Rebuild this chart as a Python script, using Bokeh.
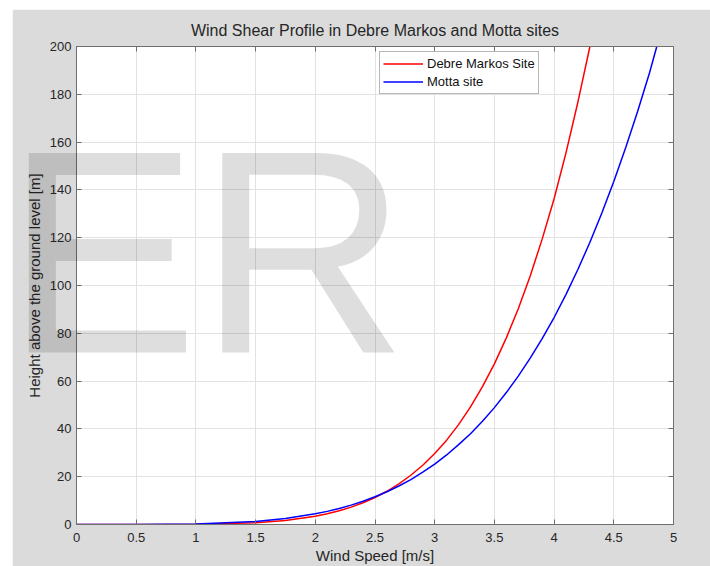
from bokeh.plotting import figure
from bokeh.models import Range1d, LinearAxis, Legend, LegendItem, FixedTicker, HTMLLabel, InlineStyleSheet
from bokeh.embed import file_html
from bokeh.resources import INLINE

# ---- data ----
debre_speed = [0.0, 0.5, 1.0, 1.5, 1.75, 2.0, 2.1, 2.2, 2.3, 2.4, 2.5, 2.6, 2.7, 2.8, 2.9,
               3.0, 3.1, 3.2, 3.3, 3.4, 3.5, 3.6, 3.7, 3.8, 3.9, 4.0, 4.1, 4.2, 4.3]
debre_height = [0.0, 0.002, 0.09, 0.75, 1.71, 3.46, 4.49, 5.74, 7.26, 9.10, 11.3, 13.9, 17.0, 20.6, 24.8,
                29.7, 35.3, 41.8, 49.2, 57.7, 67.2, 78.1, 90.3, 104.0, 119.4, 136.3, 155.6, 176.9, 200.0]

motta_speed = [0.0, 0.5, 1.0, 1.5, 1.75, 2.0, 2.1, 2.2, 2.3, 2.4, 2.5, 2.6, 2.7, 2.8, 2.9,
               3.0, 3.1, 3.2, 3.3, 3.4, 3.5, 3.6, 3.7, 3.8, 3.9, 4.0, 4.1, 4.2, 4.3, 4.4,
               4.5, 4.6, 4.7, 4.8, 4.86]
motta_height = [0.0, 0.012, 0.23, 1.30, 2.52, 4.46, 5.49, 6.71, 8.11, 9.74, 11.6, 13.7, 16.1, 18.8, 21.9,
                25.3, 29.1, 33.4, 38.0, 43.2, 48.9, 55.2, 62.1, 69.6, 77.8, 86.6, 96.3, 106.8, 118.1, 130.3,
                143.5, 157.7, 172.9, 189.1, 200.0]

x_ticks = [0, 0.5, 1, 1.5, 2, 2.5, 3, 3.5, 4, 4.5, 5]
x_tick_labels = ["0", "0.5", "1", "1.5", "2", "2.5", "3", "3.5", "4", "4.5", "5"]
y_ticks = [0, 20, 40, 60, 80, 100, 120, 140, 160, 180, 200]
y_tick_labels = ["0", "20", "40", "60", "80", "100", "120", "140", "160", "180", "200"]

series_names = ["Debre Markos Site", "Motta site"]
series_colors = ["#ff0000", "#0000ff"]

FONT = "Liberation Sans"
FRAME = "#6f6f6f"
TEXT = "#262626"

p = figure(width=698, height=557, output_backend="svg", toolbar_location=None,
           x_range=Range1d(0, 5), y_range=Range1d(0, 200),
           min_border_left=64, min_border_right=37, min_border_top=37, min_border_bottom=42,
           margin=(9, 0, 0, 12),
           background_fill_color="white", border_fill_color="#dbdbdb",
           title="Wind Shear Profile in Debre Markos and Motta sites")

p.outline_line_color = FRAME
p.title.text_font = FONT
p.title.text_font_size = "16px"
p.title.text_font_style = "normal"
p.title.text_color = TEXT
p.title.align = "center"
p.title.standoff = 15

xt = FixedTicker(ticks=x_ticks)
yt = FixedTicker(ticks=y_ticks)

for ax in p.xaxis:
    ax.ticker = xt
    ax.major_label_overrides = dict(zip(x_ticks, x_tick_labels))
    ax.axis_label = "Wind Speed [m/s]"
    ax.major_label_standoff = 8
    ax.axis_label_standoff = 2
for ax in p.yaxis:
    ax.ticker = yt
    ax.major_label_overrides = dict(zip(y_ticks, y_tick_labels))
    ax.axis_label = "Height above the ground level [m]"
    ax.major_label_standoff = 5
    ax.axis_label_standoff = 4

for ax in p.axis:
    ax.major_label_text_font = FONT
    ax.major_label_text_font_size = "13px"
    ax.major_label_text_color = TEXT
    ax.axis_label_text_font = FONT
    ax.axis_label_text_font_size = "15px"
    ax.axis_label_text_font_style = "normal"
    ax.axis_label_text_color = TEXT

top_ax = LinearAxis(ticker=xt)
right_ax = LinearAxis(ticker=yt)
for ax in (top_ax, right_ax):
    ax.major_label_text_font_size = "1px"
    ax.major_label_text_color = None
    ax.major_label_standoff = 0
p.add_layout(top_ax, "above")
p.add_layout(right_ax, "right")

for ax in p.axis:
    ax.axis_line_color = FRAME
    ax.major_tick_line_color = FRAME
    ax.major_tick_in = 5
    ax.major_tick_out = 0
    ax.minor_tick_line_color = None

p.xgrid.ticker = xt
p.ygrid.ticker = yt
p.grid.grid_line_color = "#e2e2e2"
p.grid.grid_line_width = 1

r1 = p.line(debre_speed, debre_height, line_color=series_colors[0], line_width=1.5)
r2 = p.line(motta_speed, motta_height, line_color=series_colors[1], line_width=1.5)

legend = Legend(items=[LegendItem(label=series_names[0], renderers=[r1]),
                       LegendItem(label=series_names[1], renderers=[r2])],
                location=(303, 430))
legend.label_text_font = FONT
legend.label_text_font_size = "13px"
legend.label_text_color = "#111111"
legend.border_line_color = FRAME
legend.background_fill_color = "white"
legend.background_fill_alpha = 1
legend.glyph_width = 40
legend.glyph_height = 17
legend.label_height = 17
legend.spacing = 1
legend.padding = 3
legend.margin = 0
legend.label_standoff = 4
p.add_layout(legend)

# large translucent "ER" watermark, allowed to extend past the plot frame
watermark = HTMLLabel(x=5, y=226, x_units="screen", y_units="screen", text="ER",
                      text_font=FONT, text_font_size="290px", text_color="black",
                      text_alpha=0.13, text_baseline="alphabetic", text_align="left")
watermark.stylesheets = [InlineStyleSheet(
    css=":host { position: fixed !important; clip-path: none !important; overflow: visible !important; }")]
p.add_layout(watermark)

open("out.html", "w").write(file_html(p, INLINE))
